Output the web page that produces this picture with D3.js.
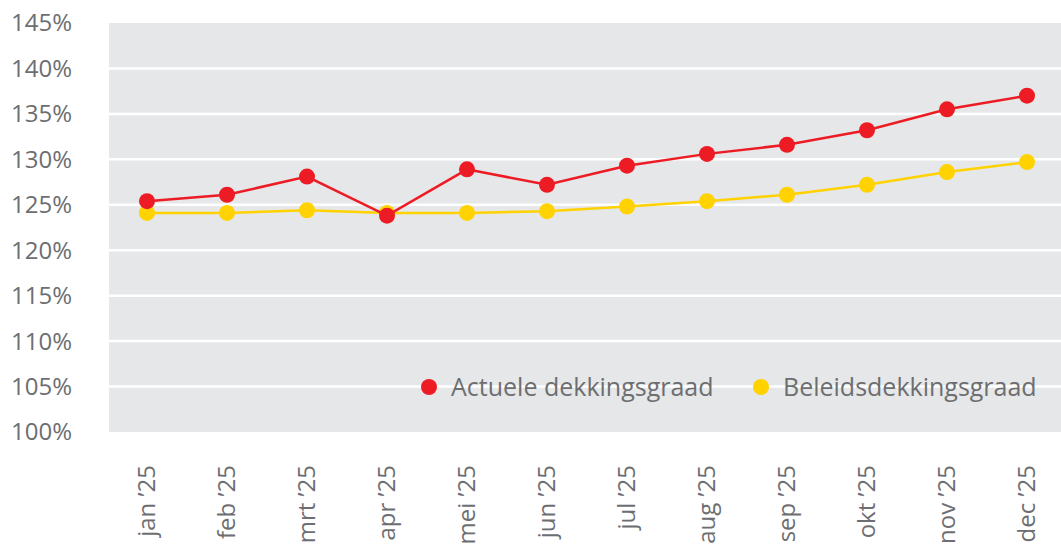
<!DOCTYPE html>
<html>
<head>
<meta charset="utf-8">
<script src="https://cdn.jsdelivr.net/npm/d3@7"></script>
<style>
  body { margin: 0; background: #fff; }
  svg text { font-family: "Open Sans", sans-serif; fill: #6d6e71; }
</style>
</head>
<body>
<svg id="chart" width="1061" height="546"></svg>
<script>
// data
var months = ["jan '25", "feb '25", "mrt '25", "apr '25", "mei '25", "jun '25",
              "jul '25", "aug '25", "sep '25", "okt '25", "nov '25", "dec '25"];
var actuele = [125.4, 126.1, 128.1, 123.8, 128.9, 127.2, 129.3, 130.6, 131.6, 133.2, 135.5, 137.0];
var beleids = [124.1, 124.1, 124.4, 124.1, 124.1, 124.3, 124.8, 125.4, 126.1, 127.2, 128.6, 129.7];
var yTicks = [100, 105, 110, 115, 120, 125, 130, 135, 140, 145];
var seriesNames = ["Actuele dekkingsgraad", "Beleidsdekkingsgraad"];
var seriesColors = ["#ed1c24", "#ffd200"];

var svg = d3.select("#chart");
var plotLeft = 109, plotRight = 1061, plotTop = 23, plotBottom = 432;

var x = d3.scalePoint().domain(months).range([147, 1027]);
var y = d3.scaleLinear().domain([100, 145]).range([plotBottom, plotTop]);

// background
svg.append("rect")
  .attr("x", plotLeft).attr("y", plotTop)
  .attr("width", plotRight - plotLeft).attr("height", plotBottom - plotTop)
  .attr("fill", "#e6e7e8");

// gridlines
svg.append("g").selectAll("line")
  .data(yTicks.filter(function(d){ return d > 100 && d < 145; }))
  .enter().append("line")
  .attr("x1", plotLeft).attr("x2", plotRight)
  .attr("y1", function(d){ return y(d); }).attr("y2", function(d){ return y(d); })
  .attr("stroke", "#fff").attr("stroke-width", 2.5);

// y labels
svg.append("g").selectAll("text")
  .data(yTicks)
  .enter().append("text")
  .attr("x", 72).attr("y", function(d){ return y(d); })
  .attr("dy", "0.35em")
  .attr("text-anchor", "end")
  .style("font-size", "24px")
  .text(function(d){ return d + "%"; });

// x labels
svg.append("g").selectAll("text")
  .data(months)
  .enter().append("text")
  .attr("transform", function(d){ return "translate(" + x(d) + ",465) rotate(-90)"; })
  .attr("dy", "0.35em")
  .attr("text-anchor", "end")
  .style("font-size", "24px")
  .text(function(d){ return d.replace("'", "\u2019"); });

var line = d3.line()
  .x(function(d, i){ return x(months[i]); })
  .y(function(d){ return y(d); });

// yellow first, red on top
[[beleids, seriesColors[1]], [actuele, seriesColors[0]]].forEach(function(s) {
  svg.append("path")
    .datum(s[0])
    .attr("d", line)
    .attr("fill", "none")
    .attr("stroke", s[1])
    .attr("stroke-width", 2.5);
  svg.append("g").selectAll("circle")
    .data(s[0])
    .enter().append("circle")
    .attr("cx", function(d, i){ return x(months[i]); })
    .attr("cy", function(d){ return y(d); })
    .attr("r", 8)
    .attr("fill", s[1]);
});

// legend
var legendX = [429, 761];
var legend = svg.append("g").selectAll("g")
  .data(seriesNames)
  .enter().append("g")
  .attr("transform", function(d, i){ return "translate(" + legendX[i] + ",387)"; });
legend.append("circle").attr("r", 8).attr("fill", function(d, i){ return seriesColors[i]; });
legend.append("text")
  .attr("x", 22).attr("dy", "0.35em")
  .style("font-size", "25px")
  .text(function(d){ return d; });
</script>
</body>
</html>
